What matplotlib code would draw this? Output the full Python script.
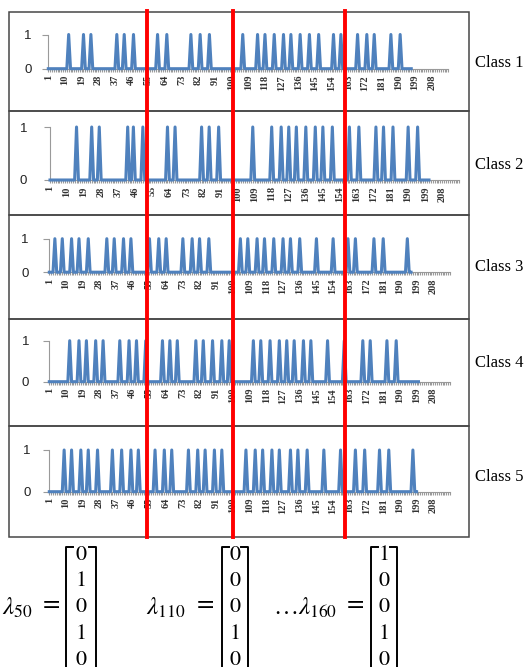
import matplotlib
matplotlib.use("Agg")
import matplotlib.pyplot as plt
import matplotlib.transforms as mtransforms
import numpy as np
from matplotlib.lines import Line2D
from matplotlib.patches import Rectangle

# ---------------- data ----------------
class_names = ["Class 1", "Class 2", "Class 3", "Class 4", "Class 5"]

class1_spikes = [12, 20, 24, 38, 42, 47, 60, 65, 78, 83, 88, 106, 114, 118, 123, 128,
                 132, 137, 142, 147, 155, 159, 168, 173, 177, 186, 191]
class2_spikes = [15, 23, 27, 42, 45, 50, 63, 67, 81, 85, 90, 108, 118, 123, 127, 131,
                 136, 141, 145, 150, 159, 164, 173, 177, 182, 190, 195]
class3_spikes = [4, 8, 13, 17, 22, 32, 36, 41, 45, 55, 60, 64, 73, 78, 82, 87, 104, 108,
                 113, 117, 122, 127, 131, 136, 145, 154, 162, 166, 176, 181, 194]
class4_spikes = [12, 17, 21, 26, 30, 39, 44, 48, 53, 62, 66, 70, 80, 84, 89, 94, 98, 111,
                 115, 120, 125, 129, 133, 138, 142, 151, 160, 170, 174, 183, 188]
class5_spikes = [9, 13, 18, 22, 27, 35, 40, 45, 49, 58, 63, 67, 76, 81, 85, 90, 94, 107,
                 112, 116, 121, 125, 131, 135, 140, 149, 158, 166, 171, 179, 184, 197]
series_length = [197, 201, 196, 200, 199]
n_categories = 217
x_tick_values = list(range(1, 209, 9))
y_tick_values = [0, 1]

red_line_positions = [54.3, 100.7, 161.2]      # in category units of the first panel
lambda_steps = ["50", "110", "160"]
lambda_vectors = [[0, 1, 0, 1, 0], [0, 0, 0, 1, 0], [1, 0, 0, 1, 0]]

all_spikes = [class1_spikes, class2_spikes, class3_spikes, class4_spikes, class5_spikes]

# ---------------- layout ----------------
W, H = 528, 667
fig = plt.figure(figsize=(W / 100, H / 100), dpi=100)
fig.patch.set_facecolor("white")
plt.rcParams["mathtext.fontset"] = "stix"

def fx(px):
    return px / W

def fy(py):
    return 1 - py / H

# (left px, right px, y of value 1, y of value 0)
panel_geom = [(48.3, 448.3, 34.5, 68.7),
              (50.0, 459.3, 127.0, 180.0),
              (49.3, 450.0, 238.7, 272.2),
              (49.3, 450.0, 340.7, 381.7),
              (49.3, 450.0, 450.0, 491.7)]
ylabel_pad = [8, 12.5, 11, 10.4, 9.6]
label_y = [63, 165, 267, 363, 477]
box_edges = [12, 111, 215, 319, 426, 537]

BLUE = "#4F81BD"
GRAY = "#9A9A9A"

# panel boxes
for i in range(5):
    fig.patches.append(Rectangle((fx(9), fy(box_edges[i + 1])), fx(469) - fx(9),
                                 fy(box_edges[i]) - fy(box_edges[i + 1]),
                                 transform=fig.transFigure, fill=False,
                                 edgecolor="#474747", lw=1.1, zorder=0))

axes = []
for i, name in enumerate(class_names):
    L, R, y1, y0 = panel_geom[i]
    ax = fig.add_axes([fx(L), fy(y0), fx(R) - fx(L), fy(y1) - fy(y0)])
    ax.patch.set_alpha(0)
    n = series_length[i]
    x = np.arange(1, n + 1)
    y = np.zeros(n)
    y[np.array(all_spikes[i]) - 1] = 1
    ax.plot(x, y, color=BLUE, lw=2.2, clip_on=False, zorder=3)
    ax.set_xlim(1, n_categories)
    ax.set_ylim(0, 1)
    for s in ("top", "right"):
        ax.spines[s].set_visible(False)
    ax.spines["bottom"].set_color(GRAY)
    ax.spines["left"].set_color(GRAY)
    ax.spines["left"].set_bounds(0, 1)
    ax.set_xticks(x_tick_values)
    ax.set_xticklabels([str(v) for v in x_tick_values], rotation=90,
                       family="Liberation Serif", fontsize=7.5, fontweight="bold",
                       color="#333333")
    ax.set_xticks(np.arange(1, n_categories + 1), minor=True)
    ax.tick_params(axis="x", which="both", length=2.5, width=0.8, color=GRAY,
                   pad=2, direction="out")
    ax.set_yticks(y_tick_values)
    ax.set_yticklabels([str(v) for v in y_tick_values], family="Liberation Sans",
                       fontsize=9.5, color="#222222")
    ax.tick_params(axis="y", length=4, width=0.8, color=GRAY, pad=ylabel_pad[i])
    fig.text(fx(475), fy(label_y[i]), name, family="Liberation Serif", fontsize=12,
             ha="left", va="center")
    axes.append(ax)

# red separator lines
blend = mtransforms.blended_transform_factory(axes[0].transData, fig.transFigure)
for xv in red_line_positions:
    fig.lines.append(Line2D([xv, xv], [fy(537), fy(11)], transform=blend,
                            color="#FF0000", lw=2.8, zorder=10))

# lambda vectors
lam_x = [2, 146, 273]
eq_x = [51, 205, 355]
br_left = [66, 222, 371]
br_right = [96, 248, 397]
row_y = [555, 581, 607, 634, 660]
for k in range(3):
    prefix = r"$\ldots\lambda_{%s}$" % lambda_steps[k] if k == 2 else r"$\lambda_{%s}$" % lambda_steps[k]
    fig.text(fx(lam_x[k]), fy(608), prefix, fontsize=18, ha="left", va="center")
    fig.text(fx(eq_x[k]), fy(605), "=", family="STIXGeneral", fontsize=18,
             ha="center", va="center")
    cx = (br_left[k] + br_right[k]) / 2
    for r, v in enumerate(lambda_vectors[k]):
        fig.text(fx(cx), fy(row_y[r]), str(v), family="STIXGeneral", fontsize=16,
                 ha="center", va="center")
    for bx, d in ((br_left[k], 7), (br_right[k], -7)):
        fig.lines.append(Line2D([fx(bx + d), fx(bx), fx(bx)],
                                [fy(547), fy(547), fy(680)],
                                transform=fig.transFigure, color="black", lw=1.4))

fig.savefig("out.png", dpi=100, facecolor="white")
